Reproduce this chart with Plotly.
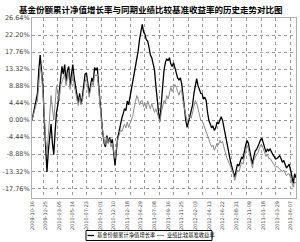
import plotly.graph_objects as go
import pandas as pd

# weekly cumulative returns (%)
fund = [0, 2, 4, 5, 7, 13, 17, 13, 9, 0,
        -6, -13.5, -8, -4, -1, -6, -9, -3, 2, 4,
        8, 11, 14, 12, 14.5, 10, 13, 14, 9, 12,
        14.5, 11, 8.5, 6, 4.5, 7, 4.3, 6, 9, 12,
        12.3, 9, 7, 9, 11, 10, 13.7, 13, 13.7, 9,
        4.3, 0, -3.4, -6, -7, -4, -6, -4.5, -6, -5,
        -8.7, -11.8, -8, -4.5, -3, -1, 0.5, 1.7, 3, 2.5,
        5, 4, 6, 8, 9, 11, 13, 15.5, 18, 21,
        23, 25, 23, 22.4, 21, 20.6, 19, 17, 16.3, 15,
        13.2, 9, 4.3, 2, -0.1, 5, 10.3, 13, 15, 16,
        15.5, 16.3, 14.7, 14, 15, 13.6, 12.9, 11, 10.5, 11,
        9.5, 6, 3.3, 0, -1.9, 0, 1, 2.5, 4, 7,
        9, 10.8, 9, 8, 7, 6.9, 5.5, 6, 5.1, 2,
        -0.1, -1, -2, -1.5, -2.7, -2, -0.5, -1, 0, 0.9,
        0, -2, -4, -6.1, -8, -9, -11, -12.3, -13.5, -14.9,
        -13, -11.5, -12, -10.5, -9.7, -10, -8, -6.5, -5.3, -6,
        -8, -10, -11.5, -9.5, -8, -7.7, -7, -6, -5, -4.8,
        -6, -7, -8.4, -7.5, -8, -7.5, -8.5, -9, -9.5, -10.1,
        -10, -9.5, -9.3, -10, -11, -10.5, -11.5, -12.5, -12, -11.5,
        -13, -15, -16.5, -14, -15]

bench = [0, 1.5, 3, 4, 5, 9, 14, 12, 8, 2,
         -5, -8.9, -4, 2, 6.4, 3, 0, 4, 9, 7,
         5, 9, 10.3, 11, 12, 9, 11, 12, 8, 10,
         12, 9, 7, 5, 3.8, 6, 4, 5, 8, 10,
         11, 8, 6, 8, 10, 9, 12, 11.5, 12, 8,
         3.5, 0, -3, -5.5, -6.5, -4.5, -6, -5, -7, -6,
         -8, -10, -7.5, -5, -4, -2.5, -3, -2, -1, -2,
         -0.5, -1.9, -1, -0.4, 1, 3, 5, 6.4, 5.5, 4,
         5, 5.1, 3.5, 4.5, 3, 5, 4, 3, 4.3, 3,
         2, 3, 1.7, 0.5, -0.5, 2, 4, 5.1, 4.5, 6.4,
         5.5, 7, 8.5, 7.5, 8.5, 9.3, 8.5, 7.5, 6.5, 7.7,
         7.7, 5, 3.3, 1, -0.5, 0.5, 0.9, 0.5, 2, 4,
         5.1, 4.5, 3, 1.5, 0, -0.1, -1, -2, -2.7, -4,
         -5, -6.1, -7, -6.5, -7.9, -7, -6, -6.5, -5.2, -6,
         -5.5, -7, -8.5, -9.7, -10.5, -11.5, -12, -13.1, -14, -15.7,
         -14, -13, -13.5, -12, -11, -11.5, -9.5, -8, -6.5, -7.5,
         -9, -11, -12.5, -10.5, -9.5, -9, -8.5, -7.5, -6.5, -6.5,
         -7.5, -8.5, -9.5, -9, -10, -10, -10.5, -11, -11.5, -12.3,
         -12, -12.5, -12.8, -13, -13.5, -13, -14, -14.5, -14, -14,
         -15, -16.5, -17.5, -16, -16.5]

start_date = "2009-10-16"
title_text = "基金份额累计净值增长率与同期业绩比较基准收益率的历史走势对比图"
series_names = ["基金份额累计净值增长率", "业绩比较基准收益率"]
ytick_vals = [26.64, 22.20, 17.76, 13.32, 8.88, 4.44, 0.0, -4.44, -8.88, -13.32, -17.76]
ytick_text = ["26.64%", "22.20%", "17.76%", "13.32%", "8.88%", "4.44%", "0.00%",
              "-4.44%", "-8.88%", "-13.32%", "-17.76%"]

n = len(fund)
dates = pd.date_range(start_date, periods=n, freq="7D")
idx = list(range(n))
label_idx = idx[::10]
label_text = [d.strftime("%Y-%m-%d") for d in dates[::10]]
grid_idx = [8.1 + 10.68 * k for k in range(18)]

colors = ["#000000", "#8a8a8a"]
widths = [1.3, 1.0]

fig = go.Figure()
for vals, name, c, w in zip([fund, bench], series_names, colors, widths):
    fig.add_trace(go.Scatter(x=idx, y=vals, mode="lines", name=name,
                             line=dict(color=c, width=w), showlegend=False))

font = "Noto Sans CJK SC"
fig.add_annotation(text="<b>" + title_text + "</b>", xref="paper", yref="paper",
                   x=0.45, y=1.05, xanchor="center", yanchor="middle", showarrow=False,
                   font=dict(family=font, size=8.5, color="#000"))

# compact legend box below the axis labels
fig.add_shape(type="rect", xref="paper", yref="paper", x0=0.2045, x1=0.6818,
              y0=-0.236, y1=-0.1806, line=dict(color="#000", width=1), fillcolor="white")
leg_pos = [(0.2102, 0.2348, 0.2405), (0.4735, 0.5, 0.5038)]
for (lx0, lx1, tx), name, c, w in zip(leg_pos, series_names, colors, widths):
    fig.add_shape(type="line", xref="paper", yref="paper", x0=lx0, x1=lx1,
                  y0=-0.2083, y1=-0.2083, line=dict(color=c, width=w))
    fig.add_annotation(text=name, xref="paper", yref="paper", x=tx, y=-0.2083,
                       xanchor="left", yanchor="middle", showarrow=False,
                       font=dict(family=font, size=5.3, color="#000"))

fig.update_layout(
    width=300, height=242,
    margin=dict(l=32, r=4, t=18, b=44, pad=0, autoexpand=False),
    paper_bgcolor="white", plot_bgcolor="white",
    font=dict(family=font, color="#333"),
    showlegend=False,
    xaxis=dict(range=[0, n - 1], tickmode="array", tickvals=label_idx, ticktext=label_text,
               tickangle=-90, tickfont=dict(size=5, family="DejaVu Sans", color="#444"),
               showgrid=False, zeroline=False, showline=True, mirror=True,
               linecolor="#b0b0b0", linewidth=1, ticks="", automargin=False,
               minor=dict(tickmode="array", tickvals=grid_idx, showgrid=True,
                          gridcolor="#9a9a9a", griddash="dot", gridwidth=1)),
    yaxis=dict(range=[-20.3, 26.64], tickmode="array", tickvals=ytick_vals, ticktext=ytick_text,
               tickfont=dict(size=6.5, family="DejaVu Sans", color="#444"),
               showgrid=True, gridcolor="#9a9a9a", griddash="dot", gridwidth=1,
               zeroline=False, showline=True, mirror=True, linecolor="#b0b0b0",
               linewidth=1, ticks="", automargin=False),
)

fig.write_html("out.html")
